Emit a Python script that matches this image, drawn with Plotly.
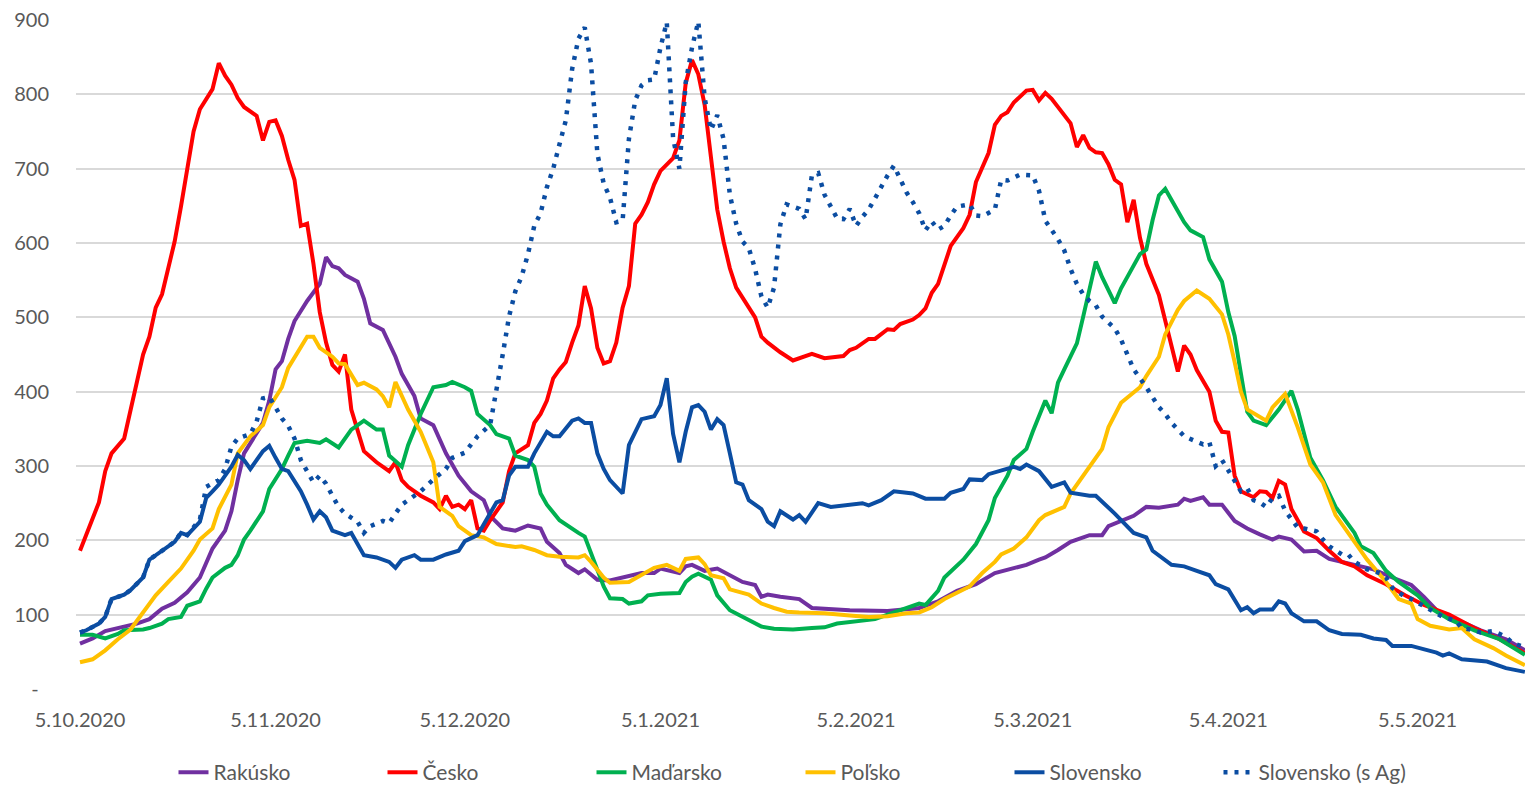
import pandas as pd
import plotly.graph_objects as go

START = pd.Timestamp("2020-10-05")

# ---- data: day offsets from 5.10.2020 and 7-day incidence values ----
rak_days = [0,2,4,7,9,11,13,15,17,19,20,21,23,24,25,26,29,30,31,32,33,34,36,38,39,40,41,42,44,45,46,48,50,51,53,54,56,58,60,62,64,65,67,69,71,73,74,76,77,79,80,82,84,86,89,91,92,95,96,97,99,101,103,105,107,108,109,111,114,116,122,128,133,136,139,142,145,148,150,152,153,155,157,160,162,163,167,169,171,174,175,176,178,179,181,183,185,187,189,190,192,194,196,198,200,203,205,208,211,213,215,218,222,226,229]
rak_vals = [61,68,78,84,88,94,108,116,130,150,171,189,213,239,281,317,358,388,430,441,471,495,522,545,581,569,566,557,548,525,492,483,447,424,394,364,355,317,287,266,254,233,216,213,220,216,198,183,167,156,161,147,146,150,156,156,162,156,165,167,159,162,153,144,140,124,127,124,121,109,106,105,109,118,132,141,156,162,167,174,177,187,198,207,207,219,233,245,244,248,256,253,258,248,248,226,216,208,201,205,201,185,186,175,171,165,161,150,140,124,106,94,79,67,52]

cz_days = [0,2,3,4,5,7,8,10,11,12,13,14,15,16,17,18,19,21,22,23,24,25,26,28,29,30,31,32,33,34,35,36,37,38,39,40,41,42,43,44,45,47,49,50,51,52,54,56,57,58,59,60,61,62,63,64,65,67,68,69,71,72,73,74,75,76,77,78,79,80,81,82,83,84,85,86,87,88,89,90,91,92,93,94,95,96,97,98,99,100,101,102,103,104,106,107,108,109,111,113,116,118,121,122,123,125,126,128,129,130,132,133,134,135,136,137,138,140,141,142,144,145,146,147,148,150,151,152,153,154,156,157,158,159,160,161,162,163,164,165,166,167,168,169,171,172,174,175,176,177,179,180,181,182,183,184,186,187,188,189,190,191,192,194,196,198,200,202,204,207,210,213,215,217,221,225,229]
cz_vals = [186,228,251,293,317,337,376,450,474,513,531,566,602,649,703,750,780,807,842,825,813,795,783,771,738,763,765,744,712,685,623,626,572,507,466,436,427,450,376,346,320,305,293,305,281,272,260,251,242,260,245,248,242,254,216,213,227,251,293,317,328,358,370,388,418,430,440,466,489,542,512,459,438,441,466,513,542,626,638,655,679,697,705,714,738,815,846,827,786,720,645,602,566,540,513,500,474,466,453,442,451,445,448,456,459,471,471,484,483,491,497,503,512,533,545,572,596,620,638,682,721,759,771,776,789,805,806,792,802,794,771,761,729,745,728,722,721,706,685,679,628,658,607,572,530,495,427,462,450,429,400,361,346,345,287,266,258,266,265,257,280,275,242,212,203,186,171,165,153,141,126,113,106,100,82,67,48]

hu_days = [0,2,4,6,7,10,11,13,14,16,17,19,20,21,23,24,25,26,27,29,30,32,33,34,36,38,39,41,43,45,47,48,49,51,52,54,56,58,59,61,62,63,65,66,68,69,71,72,73,74,76,77,79,80,82,83,84,86,87,89,90,92,95,96,97,98,100,101,103,105,106,108,110,113,116,118,120,123,126,129,131,133,134,136,137,140,142,144,145,147,148,150,151,153,154,155,156,158,159,160,161,162,164,165,167,168,169,170,171,172,173,175,176,178,179,181,182,183,184,185,186,188,190,192,193,195,197,199,202,203,205,207,209,212,214,217,221,225,229]
hu_vals = [73,73,68,74,79,80,82,88,94,97,112,118,135,150,163,167,180,201,213,239,269,296,314,331,334,331,336,325,349,361,349,349,314,299,328,370,406,409,413,406,401,370,355,343,337,314,308,299,263,248,227,221,210,205,162,138,122,121,115,118,126,128,129,144,151,155,147,126,106,97,92,84,81,80,82,83,88,91,94,103,109,115,113,132,150,174,195,227,257,287,308,323,346,388,371,412,430,465,501,536,575,554,519,539,569,585,591,631,664,673,658,628,617,608,578,548,507,475,424,373,361,355,376,401,376,311,281,245,210,192,183,159,144,126,109,94,79,67,46]

pl_days = [0,2,4,6,8,10,12,14,16,18,19,21,22,24,25,27,29,30,32,33,35,36,37,38,40,41,42,44,45,47,48,49,50,51,52,54,55,56,57,59,60,62,64,66,69,70,72,74,76,77,79,80,81,83,84,87,89,91,93,95,96,98,99,100,102,103,106,108,110,112,114,118,122,125,128,131,133,135,137,141,143,145,146,148,150,152,153,156,157,159,162,163,165,168,169,171,172,174,175,177,179,181,182,183,184,185,188,189,191,193,195,197,199,202,204,207,209,211,212,214,217,219,221,224,226,229]
pl_vals = [36,40,52,67,80,103,126,144,162,186,201,216,242,275,317,340,355,379,406,432,459,474,474,459,447,438,437,409,412,403,394,379,413,394,376,346,325,305,245,233,219,207,204,195,191,192,187,180,178,178,177,180,171,150,143,144,153,163,167,159,175,177,168,153,149,134,127,115,109,104,103,102,99,97,98,102,103,110,121,138,156,171,181,189,204,227,234,245,263,287,323,352,385,406,421,447,477,510,522,536,525,504,477,440,400,376,361,379,397,352,302,278,234,198,174,144,121,115,94,85,80,82,67,55,45,32]

sk_days = [0,1,3,4,5,7,8,10,11,12,14,15,16,17,19,20,21,22,24,25,26,27,29,30,31,32,33,35,36,37,38,39,40,42,43,45,47,49,50,51,53,54,56,58,60,61,63,64,66,67,68,69,71,72,74,75,76,78,79,80,81,82,83,84,86,87,88,89,91,92,93,94,95,96,97,98,99,100,101,102,103,104,105,106,108,109,110,111,113,114,115,117,119,122,124,125,127,129,132,134,137,138,140,141,143,144,146,148,149,150,152,154,156,157,160,161,164,167,169,170,173,175,177,179,180,182,184,185,186,187,189,190,191,192,194,196,198,200,203,205,207,208,211,213,215,216,217,219,223,226,229]
sk_vals = [76,79,88,97,121,127,133,150,174,180,192,198,210,207,225,257,266,275,299,315,308,296,320,327,311,296,293,266,248,228,239,231,213,207,210,180,177,171,163,174,180,174,174,181,186,199,207,222,251,254,287,299,299,317,346,340,340,361,364,358,358,317,296,281,263,328,346,363,367,382,418,343,305,346,379,382,373,349,363,355,317,278,275,254,242,225,219,239,228,234,225,250,245,248,250,247,254,266,263,256,256,264,269,282,281,289,294,299,296,302,293,272,278,264,260,260,236,210,204,186,167,165,159,153,141,134,106,110,102,107,107,118,115,102,91,91,79,74,73,68,66,58,58,54,49,45,48,40,37,28,23]

ska_days = [0,1,3,4,5,7,8,10,11,12,14,15,16,17,19,20,22,23,24,25,27,28,29,30,31,32,33,34,35,36,37,38,39,40,41,42,44,45,46,48,49,50,51,53,54,56,58,59,61,62,63,65,66,67,68,69,70,71,72,73,74,75,76,77,78,79,80,81,82,83,84,85,86,87,88,89,90,91,92,93,94,95,96,97,98,99,100,101,102,103,104,105,106,107,108,109,110,111,112,114,115,116,117,118,120,121,122,123,124,125,126,127,128,129,130,131,132,133,134,135,136,137,138,139,141,142,143,145,146,147,149,151,152,153,155,156,157,158,159,160,161,162,164,165,166,167,169,170,171,172,173,175,176,178,179,180,181,182,183,184,185,186,187,188,189,190,191,192,193,194,196,197,198,200,201,202,204,206,207,208,210,211,213,214,216,218,219,221,222,224,226,227,229]
ska_vals = [76,79,88,97,121,127,133,150,174,180,192,198,210,207,228,272,281,296,326,337,343,360,391,393,379,364,354,337,308,293,278,287,276,260,245,236,225,210,219,226,223,236,248,260,266,282,296,311,318,329,340,355,400,450,501,535,555,585,623,640,675,700,733,765,834,875,890,841,720,680,661,628,630,740,792,812,819,820,863,897,741,700,816,863,898,795,752,772,740,665,626,602,593,565,528,513,540,625,652,646,632,691,694,665,633,632,646,623,635,645,660,676,691,704,685,668,655,640,617,629,618,623,637,649,652,637,636,645,685,684,692,691,670,630,605,590,565,545,531,522,516,501,485,470,450,430,406,391,379,370,358,340,336,329,332,300,308,294,278,266,270,254,251,245,257,260,240,229,217,216,212,201,192,181,181,171,161,156,150,136,124,121,112,106,97,92,82,79,76,78,70,62,56]

series_names = ["Rakúsko", "Česko", "Maďarsko", "Poľsko", "Slovensko", "Slovensko (s Ag)"]
series_colors = ["#7030A0", "#FF0000", "#00B050", "#FFC000", "#0B4DA2", "#0B4DA2"]

x_tick_dates = ["2020-10-05", "2020-11-05", "2020-12-05", "2021-01-05",
                "2021-02-05", "2021-03-05", "2021-04-05", "2021-05-05"]
x_tick_text = ["5.10.2020", "5.11.2020", "5.12.2020", "5.1.2021",
               "5.2.2021", "5.3.2021", "5.4.2021", "5.5.2021"]
y_tick_vals = [0, 100, 200, 300, 400, 500, 600, 700, 800, 900]
y_tick_text = ["-\u00a0\u00a0", "100", "200", "300", "400", "500", "600", "700", "800", "900"]

def to_dates(days):
    return [START + pd.Timedelta(days=d) for d in days]

data = [
    (rak_days, rak_vals),
    (cz_days, cz_vals),
    (hu_days, hu_vals),
    (pl_days, pl_vals),
    (sk_days, sk_vals),
    (ska_days, ska_vals),
]

fig = go.Figure()
for i, ((days, vals), name, color) in enumerate(zip(data, series_names, series_colors)):
    dash = "4px,7px" if i == 5 else "solid"
    fig.add_trace(go.Scatter(
        x=to_dates(days), y=vals, name=name, mode="lines",
        line=dict(color=color, width=4.5 if i == 5 else 4, dash=dash),
        hoverinfo="skip",
    ))

FONT = "Lato, 'Noto Sans', sans-serif"
x_start = START - pd.Timedelta(hours=15.2)
x_end = pd.Timestamp("2021-05-22") + pd.Timedelta(hours=0.5)

fig.update_layout(
    width=1525, height=787,
    margin=dict(l=76, r=0, t=20, b=98, autoexpand=False),
    paper_bgcolor="white", plot_bgcolor="white",
    font=dict(family=FONT, size=20, color="#595959"),
    showlegend=True,
    legend=dict(orientation="h", x=0.5, xanchor="center", y=-0.125, yanchor="middle",
                font=dict(family=FONT, size=21, color="#595959"),
                entrywidth=164, entrywidthmode="pixels", traceorder="normal"),
    xaxis=dict(type="date", range=[x_start, x_end], tickvals=x_tick_dates, ticktext=x_tick_text,
               showgrid=False, zeroline=False, showline=False, ticks="", automargin=False,
               ticklabelstandoff=17, tickfont=dict(size=20, color="#595959")),
    yaxis=dict(range=[0, 900], tickvals=y_tick_vals, ticktext=y_tick_text,
               showgrid=True, gridcolor="#D9D9D9", gridwidth=1.5, zeroline=False,
               showline=False, ticks="", ticklabelstandoff=26, automargin=False,
               tickfont=dict(size=20, color="#595959")),
)

fig.write_html("out.html", config={"displayModeBar": False},
               post_script="document.body.style.margin='0';document.body.style.overflow='hidden';")
